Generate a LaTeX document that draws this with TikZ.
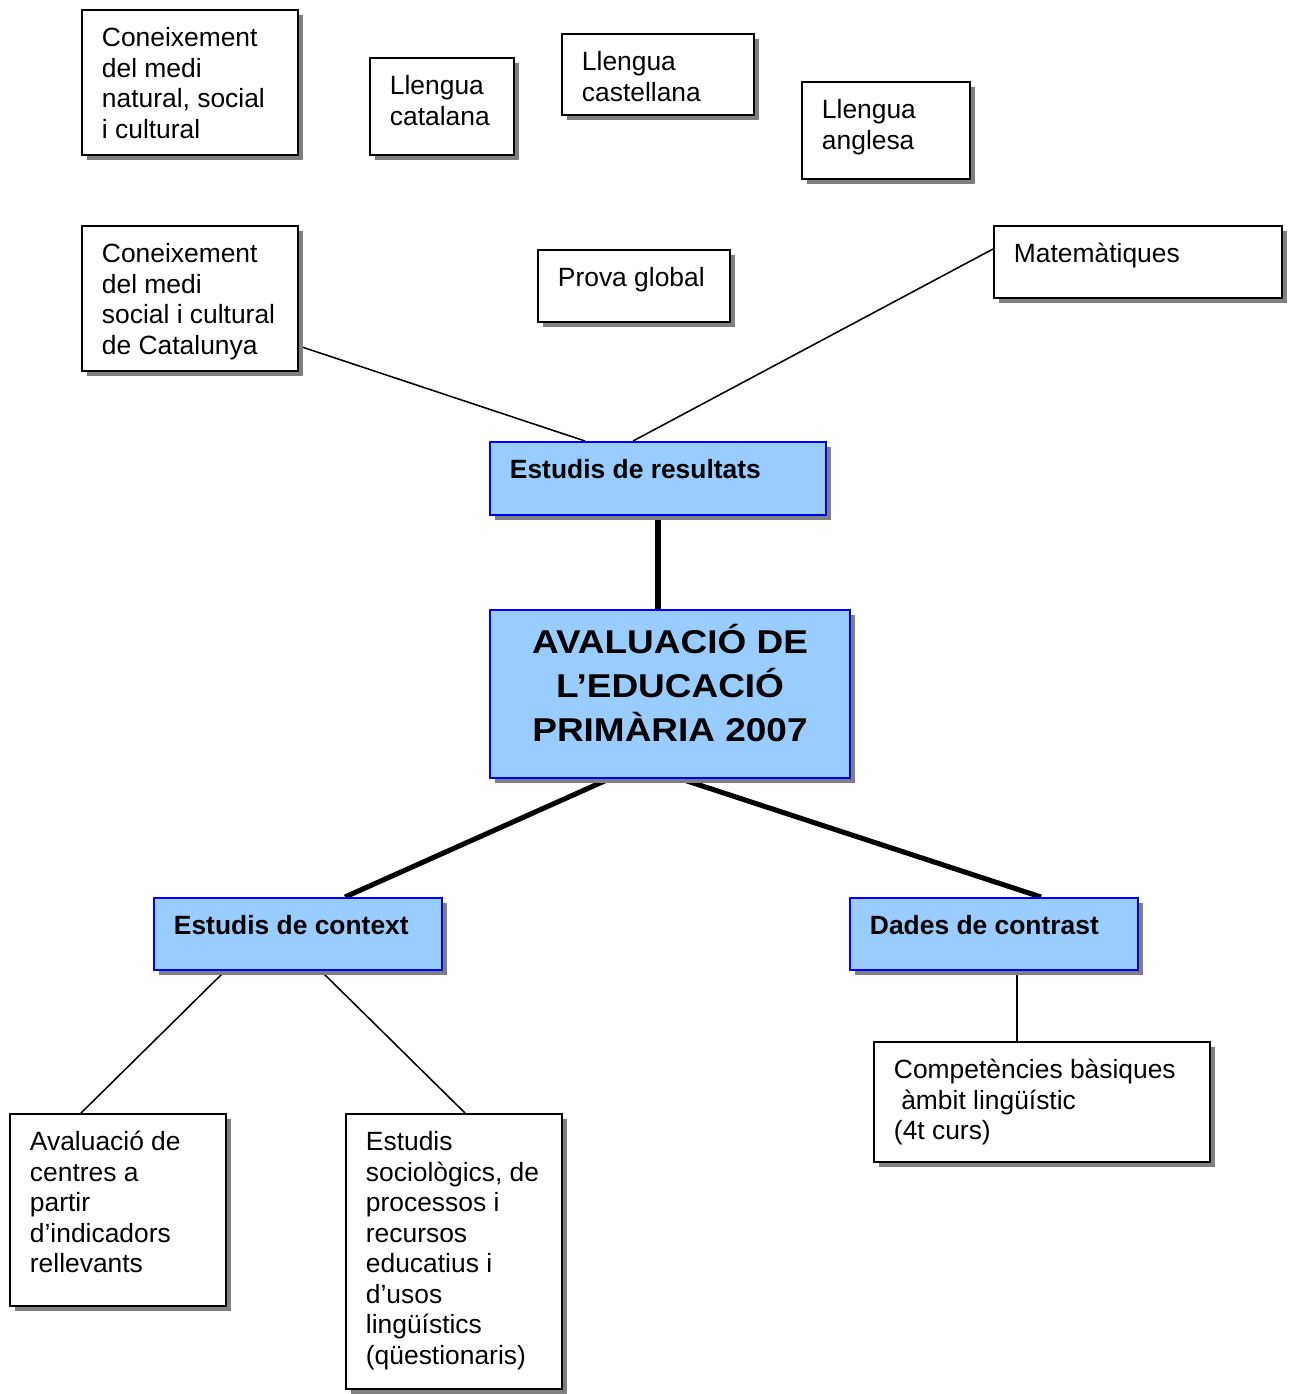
\documentclass[tikz,border=0pt]{standalone}
\usepackage{fontspec}
\setmainfont{Liberation Sans}
\newfontfamily\titlefont[FakeStretch=1.12]{Liberation Sans}
\usetikzlibrary{fit, shadows, backgrounds}
\definecolor{areablue}{RGB}{153,204,255}
\tikzset{
    plainbox/.style={rectangle, draw=black, line width=0.9pt, fill=white, inner sep=0pt, drop shadow={shadow xshift=2.3pt, shadow yshift=-2.3pt, fill=black!50, opacity=1}},
    areabox/.style={plainbox, draw=blue, fill=areablue},
    boxtext/.style={anchor=north west, inner sep=0pt, align=left, font=\fontsize{12}{13.86}\selectfont},
    areatext/.style={boxtext, font=\fontsize{12}{13.86}\selectfont\bfseries},
    thinlink/.style={line width=0.7pt},
    thicklink/.style={line width=2.3pt},
}

\begin{document}
\begin{tikzpicture}[x=0.4545pt, y=-0.4545pt]
\useasboundingbox (0,0) rectangle (1291,1394);

% subject boxes
\node[plainbox, fit={(82,10) (298,155)}] (natural) {};
\node[boxtext] (naturaltext) at ([shift={(20.5,16)}]natural.north west) {\strut Coneixement\\del medi\\natural, social\\i cultural};
\node[plainbox, fit={(370,58) (514,155)}] (catalana) {};
\node[boxtext] (catalanatext) at ([shift={(20.5,16)}]catalana.north west) {\strut Llengua\\catalana};
\node[plainbox, fit={(562,34) (754,115)}] (castellana) {};
\node[boxtext] (castellanatext) at ([shift={(20.5,16)}]castellana.north west) {\strut Llengua\\castellana};
\node[plainbox, fit={(802,82) (970,179)}] (anglesa) {};
\node[boxtext] (anglesatext) at ([shift={(20.5,16)}]anglesa.north west) {\strut Llengua\\anglesa};
\node[plainbox, fit={(82,226) (298,371)}] (catalunya) {};
\node[boxtext] (catalunyatext) at ([shift={(20.5,16)}]catalunya.north west) {\strut Coneixement\\del medi\\social i cultural\\de Catalunya};
\node[plainbox, fit={(538,250) (730,322)}] (global) {};
\node[boxtext] (globaltext) at ([shift={(20.5,16)}]global.north west) {\strut Prova global};
\node[plainbox, fit={(994,226) (1282,298)}] (mates) {};
\node[boxtext] (matestext) at ([shift={(20.5,16)}]mates.north west) {\strut Matemàtiques};

% main blocks
\node[areabox, fit={(490,442) (826,515)}] (resultats) {};
\node[areatext] (resultatstext) at ([shift={(20.5,16)}]resultats.north west) {\strut Estudis de resultats};
\node[areabox, fit={(490,610) (850,778)}] (avaluacio) {};
\node[anchor=north, inner sep=0pt, align=center, font=\titlefont\fontsize{15}{19.8}\selectfont\bfseries] (avaluaciotext) at ([shift={(0,14)}]avaluacio.north) {\strut AVALUACIÓ DE\\L’EDUCACIÓ\\PRIMÀRIA 2007};
\node[areabox, fit={(154,898) (442,970)}] (context) {};
\node[areatext] (contexttext) at ([shift={(20.5,16)}]context.north west) {\strut Estudis de context};
\node[areabox, fit={(850,898) (1138,970)}] (contrast) {};
\node[areatext] (contrasttext) at ([shift={(20.5,16)}]contrast.north west) {\strut Dades de contrast};

% lower boxes
\node[plainbox, fit={(10,1114) (226,1306)}] (centres) {};
\node[boxtext] (centrestext) at ([shift={(20.5,16)}]centres.north west) {\strut Avaluació de\\centres a\\partir\\d’indicadors\\rellevants};
\node[plainbox, fit={(346,1114) (562,1389)}] (sociologics) {};
\node[boxtext] (sociologicstext) at ([shift={(20.5,16)}]sociologics.north west) {\strut Estudis\\sociològics, de\\processos i\\recursos\\educatius i\\d’usos\\lingüístics\\(qüestionaris)};
\node[plainbox, fit={(874,1042) (1210,1162)}] (competencies) {};
\node[boxtext] (competenciestext) at ([shift={(20.5,16)}]competencies.north west) {\strut Competències bàsiques\\\ àmbit lingüístic\\(4t curs)};

% links
\begin{scope}[on background layer]
\draw[thinlink] ([shift={(0,121)}]catalunya.north east) -- ([shift={(96,0)}]resultats.north west);
\draw[thinlink] ([shift={(0,24)}]mates.north west) -- ([shift={(144,0)}]resultats.north west);
\draw[thicklink] (resultats.south) -- (resultats.south |- avaluacio.north);
\draw[thicklink] ([shift={(120,0)}]avaluacio.south west) -- ([shift={(192,0)}]context.north west);
\draw[thicklink] ([shift={(192,0)}]avaluacio.south west) -- ([shift={(192,0)}]contrast.north west);
\draw[thinlink] ([shift={(72,0)}]context.south west) -- ([shift={(72,0)}]centres.north west);
\draw[thinlink] ([shift={(168,0)}]context.south west) -- ([shift={(120,0)}]sociologics.north west);
\draw[thinlink] ([shift={(168,0)}]contrast.south west) -- ([shift={(144,0)}]competencies.north west);
\end{scope}
\end{tikzpicture}
\end{document}
